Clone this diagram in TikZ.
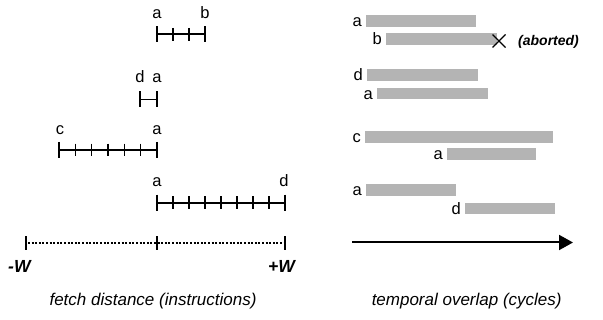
\documentclass[tikz,border=0pt]{standalone}
\usepackage{fontspec}
\setmainfont{Liberation Sans}
\usetikzlibrary{arrows.meta,calc}
\definecolor{barfill}{RGB}{180,180,180}
\tikzset{
  lbl/.style={font=\fontsize{16.5}{18}\selectfont, inner sep=0pt, anchor=base},
  rlbl/.style={font=\fontsize{16.5}{18}\selectfont, inner sep=0pt, anchor=base east},
  scaleline/.style={line width=1.8pt},
  bigtick/.style={line width=1.7pt},
  smalltick/.style={line width=1.5pt},
  bar/.style={fill=barfill, draw=none, inner sep=0pt, minimum height=11.5pt, anchor=west},
  title/.style={font=\fontsize{17}{20}\selectfont\itshape, inner sep=0pt, anchor=base},
  wlabel/.style={font=\fontsize{17.5}{20}\selectfont\bfseries\itshape, inner sep=0pt},
}
\newcommand\myruler[4]{% y, x0, x1, n intervals
  \draw[scaleline] (#2,#1) -- (#3,#1);
  \draw[bigtick] (#2,#1-8) -- (#2,#1+8);
  \draw[bigtick] (#3,#1-8) -- (#3,#1+8);
  \pgfmathtruncatemacro{\nm}{#4-1}
  \ifnum\nm>0
  \foreach \i in {1,...,\nm}{
    \pgfmathsetmacro{\xx}{#2+(#3-#2)*\i/#4}
    \draw[smalltick] (\xx,#1-6.3) -- (\xx,#1+6.3);
  }\fi
}
\begin{document}
\begin{tikzpicture}[x=1pt,y=-1pt]
\useasboundingbox (0,0) rectangle (603,320);

% ---------- left panel ----------
% row 1
\myruler{34.3}{157}{205}{3}
\node[lbl] (l1a) at (157,18.5) {a};
\node[lbl] (l1b) at (205,18.5) {b};
% row 2
\myruler{99.5}{140}{157}{1}
\node[lbl] (l2d) at (140,83) {d};
\node[lbl] (l2a) at (157,83) {a};
% row 3
\myruler{150}{59}{157}{6}
\node[lbl] (l3c) at (60,135) {c};
\node[lbl] (l3a) at (157,135) {a};
% row 4
\myruler{202.7}{157}{285}{8}
\node[lbl] (l4a) at (157,186.7) {a};
\node[lbl] (l4d) at (284,186.7) {d};

% axis
\coordinate (axL) at (26,243.5);
\coordinate (axM) at (157,243.5);
\coordinate (axR) at (285,243.5);
\draw[line width=2pt, dash pattern=on 2pt off 1.6pt] ($(axL)+(2,0)$) -- (axR);
\foreach \p in {axL,axM,axR}{
  \draw[bigtick] ($(\p)+(0,-7)$) -- ($(\p)+(0,7)$);
}
\node[wlabel, anchor=base west] (wminus) at (8,273) {-W};
\node[wlabel, anchor=base east] (wplus) at (295,273) {+W};
\node[title] (t1) at (153,306) {fetch distance (instructions)};

% ---------- right panel ----------
\node[bar, minimum width=110pt] (b1a) at (366,21) {};
\node[bar, minimum width=111pt] (b1b) at (386,39) {};
\node[bar, minimum width=111pt] (b2d) at (367,75) {};
\node[bar, minimum width=111pt] (b2a) at (377,93.5) {};
\node[bar, minimum width=188pt] (b3c) at (365,137) {};
\node[bar, minimum width=89pt] (b3a) at (447,154) {};
\node[bar, minimum width=90pt] (b4a) at (366,190) {};
\node[bar, minimum width=90pt] (b4d) at (465,208.5) {};

\node[rlbl] (rb1a) at ($(b1a.west)+(-4,6)$) {a};
\node[rlbl] (rb1b) at ($(b1b.west)+(-4,6)$) {b};
\node[rlbl] (rb2d) at ($(b2d.west)+(-4,6)$) {d};
\node[rlbl] (rb2a) at ($(b2a.west)+(-4,6)$) {a};
\node[rlbl] (rb3c) at ($(b3c.west)+(-4,6)$) {c};
\node[rlbl] (rb3a) at ($(b3a.west)+(-4,6)$) {a};
\node[rlbl] (rb4a) at ($(b4a.west)+(-4,6)$) {a};
\node[rlbl] (rb4d) at ($(b4d.west)+(-4,6)$) {d};

% abort cross
\coordinate (cx) at (499,41);
\draw[line width=1.4pt] ($(cx)+(-6.5,-6.5)$) -- ($(cx)+(6.5,6.5)$);
\draw[line width=1.4pt] ($(cx)+(-6.5,6.5)$) -- ($(cx)+(6.5,-6.5)$);
\node[font=\fontsize{14}{16}\selectfont\bfseries\itshape, inner sep=0pt, anchor=base west] (abt) at (518,46) {(aborted)};

% time arrow
\coordinate (tA) at (352,242.5);
\coordinate (tB) at (573,242.5);
\draw[line width=2pt, -{Triangle[length=14pt,width=15pt]}] (tA) -- (tB);
\node[title] (t2) at (466.7,306) {temporal overlap (cycles)};
\end{tikzpicture}
\end{document}
